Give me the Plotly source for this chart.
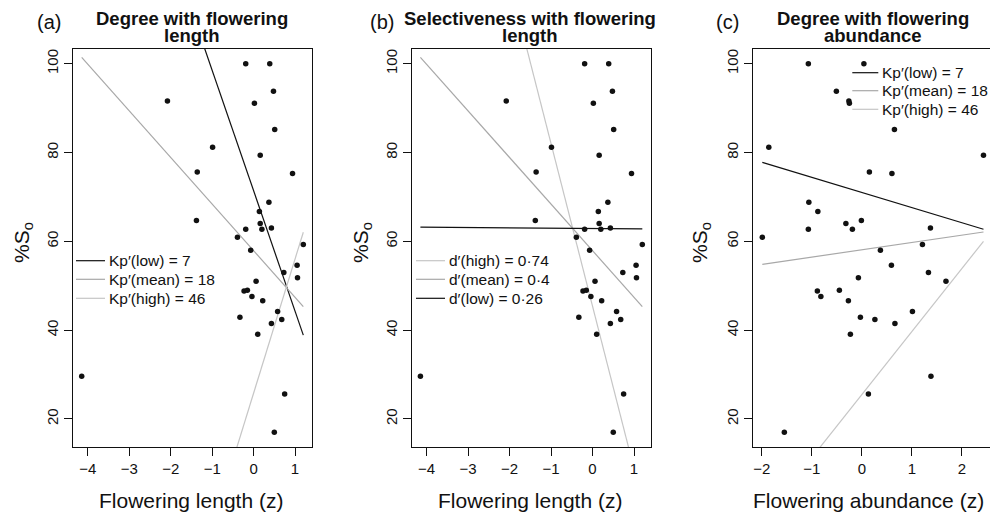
import plotly.graph_objects as go

# ---------------- data ----------------
so_pct = [100.0, 100.0, 93.8, 91.6, 91.1, 85.2, 81.2, 79.4, 75.6, 75.3, 68.8, 66.7,
          64.7, 64.0, 62.7, 62.7, 63.0, 60.9, 59.3, 58.0, 54.6, 53.0, 51.8, 51.0,
          48.8, 49.0, 47.6, 46.6, 44.2, 42.9, 42.4, 41.5, 39.1, 29.6, 25.6, 17.0]
flowering_length = [-0.19, 0.39, 0.48, -2.08, 0.02, 0.51, -0.99, 0.16, -1.36, 0.94, 0.37, 0.14,
                    -1.38, 0.16, -0.19, 0.20, 0.43, -0.39, 1.20, -0.07, 1.05, 0.73, 1.06, 0.06,
                    -0.23, -0.15, -0.04, 0.22, 0.58, -0.33, 0.68, 0.43, 0.10, -4.15, 0.75, 0.50]
flowering_abundance = [-1.07, 0.04, -0.51, -0.26, -0.25, 0.65, -1.86, 2.43, 0.15, 0.60, -1.06, -0.88,
                       -0.01, -0.32, -1.07, -0.19, 1.37, -1.99, 1.21, 0.37, 0.59, 1.33, -0.07, 1.68,
                       -0.89, -0.45, -0.82, -0.27, 1.01, -0.03, 0.26, 0.66, -0.23, 1.38, 0.13, -1.55]

# regression lines (intercept at z=0, slope)
a_labels = ["Kp\u2032(low) = 7", "Kp\u2032(mean) = 18", "Kp\u2032(high) = 46"]
a_intercepts = [71.4, 57.9, 25.8]
a_slopes = [-27.1, -10.49, 30.2]

b_labels = ["d\u2032(high) = 0\u00b774", "d\u2032(mean) = 0\u00b74", "d\u2032(low) = 0\u00b726"]
b_intercepts = [45.4, 57.9, 62.9]
b_slopes = [-36.6, -10.49, -0.075]

c_labels = ["Kp\u2032(low) = 7", "Kp\u2032(mean) = 18", "Kp\u2032(high) = 46"]
c_intercepts = [71.0, 58.1, 25.5]
c_slopes = [-3.41, 1.648, 14.2]

titles = [("Degree with flowering", "length"),
          ("Selectiveness with flowering", "length"),
          ("Degree with flowering", "abundance")]
panel_tags = ["(a)", "(b)", "(c)"]
x_titles = ["Flowering length (z)", "Flowering length (z)", "Flowering abundance (z)"]
y_ticks = [20, 40, 60, 80, 100]
x_ticks_len = [-4, -3, -2, -1, 0, 1]
x_ticks_abund = [-2, -1, 0, 1, 2]

# ---------------- styling ----------------
W, H = 990, 514
FONT = "Liberation Sans, Arial, Helvetica, sans-serif"
BLACK = "#111111"
MEAN_GREY = "#a8a8a8"
HIGH_GREY = "#c6c6c6"

def px(x):
    return x / W

def py(y):
    return 1 - y / H

a_colors = [BLACK, MEAN_GREY, HIGH_GREY]
b_colors = [HIGH_GREY, MEAN_GREY, BLACK]
c_colors = [BLACK, MEAN_GREY, HIGH_GREY]

panels = [
    dict(x=flowering_length, ints=a_intercepts, slopes=a_slopes, labels=a_labels, colors=a_colors,
         dom=(73, 312), xr=[-4.36, 1.41], ticks=x_ticks_len,
         leg=(76, 105, 107, [260.7, 279.3, 298.3]), tag_x=49, title_x=192, xt_x=191, yt_x=23, mirror=True),
    dict(x=flowering_length, ints=b_intercepts, slopes=b_slopes, labels=b_labels, colors=b_colors,
         dom=(411.7, 651), xr=[-4.36, 1.41], ticks=x_ticks_len,
         leg=(416, 445, 447, [260.7, 279.3, 298.3]), tag_x=382, title_x=530, xt_x=530, yt_x=362, mirror=True),
    dict(x=flowering_abundance, ints=c_intercepts, slopes=c_slopes, labels=c_labels, colors=c_colors,
         dom=(753.3, 990), xr=[-2.17, 2.56], ticks=x_ticks_abund,
         leg=(852.3, 878.3, 880, [72.7, 90.7, 109.3]), tag_x=727, title_x=873, xt_x=868, yt_x=701, mirror=False),
]

y_range = [13.68, 103.32]
fig = go.Figure()
annotations = []
shapes = []
layout = {}

for i, p in enumerate(panels):
    xa = "x" if i == 0 else f"x{i+1}"
    ya = "y" if i == 0 else f"y{i+1}"
    xmin, xmax = min(p["x"]), max(p["x"])
    # regression lines
    for b0, b1, col in zip(p["ints"], p["slopes"], p["colors"]):
        fig.add_trace(go.Scatter(x=[xmin, xmax], y=[b0 + b1 * xmin, b0 + b1 * xmax],
                                 mode="lines", line=dict(color=col, width=1.2),
                                 xaxis=xa, yaxis=ya, showlegend=False, hoverinfo="skip"))
    # points
    fig.add_trace(go.Scatter(x=p["x"], y=so_pct, mode="markers",
                             marker=dict(color=BLACK, size=5.5, line=dict(width=0)),
                             xaxis=xa, yaxis=ya, showlegend=False))

    axis_common = dict(showline=True, linecolor=BLACK, linewidth=1, ticks="outside", ticklen=8,
                       tickwidth=1, tickcolor=BLACK, showgrid=False, zeroline=False,
                       tickfont=dict(size=15, color=BLACK, family=FONT))
    xkey = "xaxis" if i == 0 else f"xaxis{i+1}"
    ykey = "yaxis" if i == 0 else f"yaxis{i+1}"
    layout[xkey] = dict(axis_common, domain=[px(p["dom"][0]), px(p["dom"][1])], range=p["xr"],
                        tickmode="array", tickvals=p["ticks"], anchor=ya, mirror=True)
    layout[ykey] = dict(axis_common, domain=[py(447), py(49)], range=y_range,
                        tickmode="array", tickvals=y_ticks, tickangle=-90, anchor=xa,
                        mirror=p["mirror"])

    # titles
    annotations.append(dict(text="<b>" + titles[i][0] + "</b>", x=px(p["title_x"]), y=py(18.5),
                            xref="paper", yref="paper", showarrow=False, xanchor="center", yanchor="middle",
                            font=dict(size=18.5, color=BLACK, family=FONT)))
    annotations.append(dict(text="<b>" + titles[i][1] + "</b>", x=px(p["title_x"]), y=py(35.5),
                            xref="paper", yref="paper", showarrow=False, xanchor="center", yanchor="middle",
                            font=dict(size=18.5, color=BLACK, family=FONT)))
    annotations.append(dict(text=panel_tags[i], x=px(p["tag_x"]), y=py(22),
                            xref="paper", yref="paper", showarrow=False, xanchor="center", yanchor="middle",
                            font=dict(size=20, color=BLACK, family=FONT)))
    annotations.append(dict(text=x_titles[i], x=px(p["xt_x"]), y=py(500),
                            xref="paper", yref="paper", showarrow=False, xanchor="center", yanchor="middle",
                            font=dict(size=21, color=BLACK, family=FONT)))
    annotations.append(dict(text="%S<sub>o</sub>", x=px(p["yt_x"]), y=py(243), textangle=-90,
                            xref="paper", yref="paper", showarrow=False, xanchor="center", yanchor="middle",
                            font=dict(size=21, color=BLACK, family=FONT)))
    # legend
    lx0, lx1, tx, rows = p["leg"]
    for lab, col, ry in zip(p["labels"], p["colors"], rows):
        shapes.append(dict(type="line", xref="paper", yref="paper", x0=px(lx0), x1=px(lx1),
                           y0=py(ry), y1=py(ry), line=dict(color=col, width=1.2)))
        annotations.append(dict(text=lab, x=px(tx), y=py(ry), xref="paper", yref="paper",
                                showarrow=False, xanchor="left", yanchor="middle",
                                font=dict(size=15.5, color=BLACK, family=FONT)))

fig.update_layout(width=W, height=H, margin=dict(l=0, r=0, t=0, b=0),
                  paper_bgcolor="white", plot_bgcolor="white",
                  font=dict(family=FONT, color=BLACK),
                  annotations=annotations, shapes=shapes, **layout)

fig.write_html("out.html", config={"displayModeBar": False},
               post_script="document.body.style.margin='0';document.body.style.overflow='hidden';")
